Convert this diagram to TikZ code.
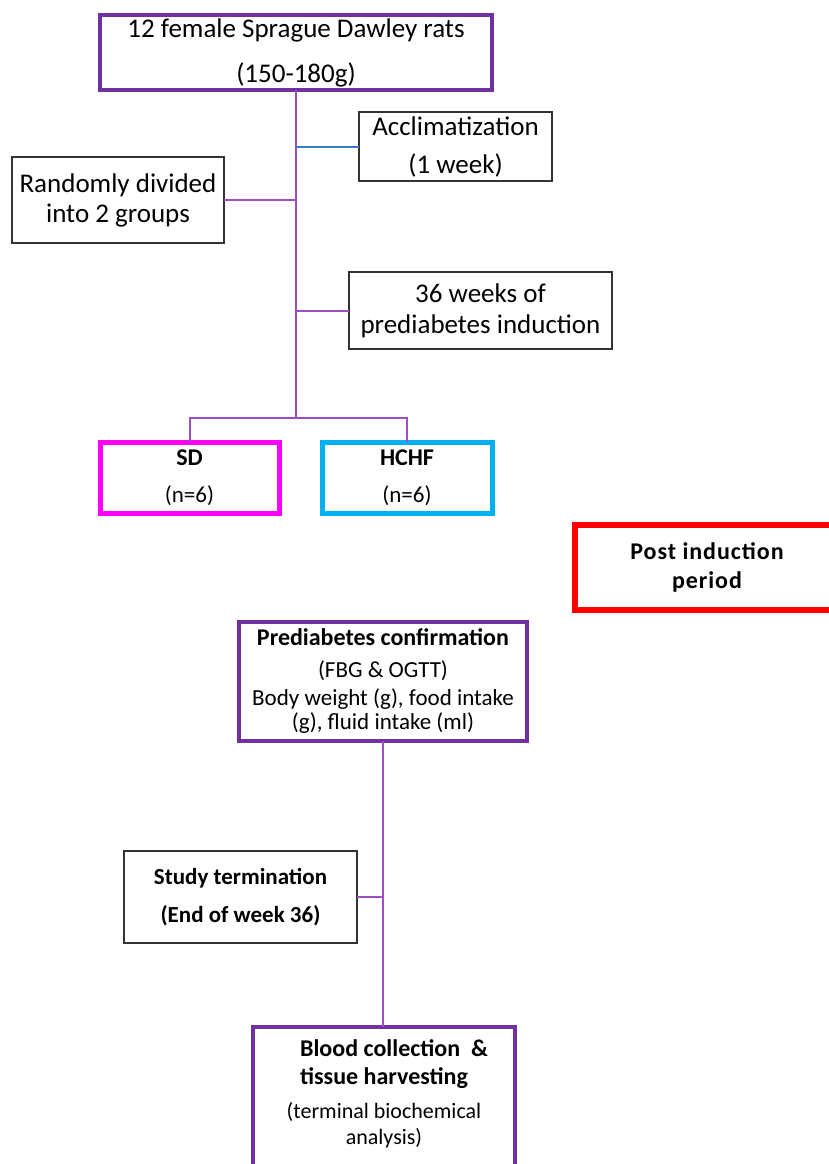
\documentclass[tikz,border=0pt]{standalone}
\usepackage{fontspec}
\setmainfont{Carlito}
\definecolor{boxpurple}{HTML}{7030A0}
\definecolor{linepurple}{HTML}{9E4FC6}
\definecolor{lineblue}{HTML}{3C78C3}
\definecolor{sdmag}{HTML}{FF00FF}
\definecolor{hccyan}{HTML}{00B0F0}
\definecolor{postred}{HTML}{FF0000}
\begin{document}
\begin{tikzpicture}[x=1pt,y=-1pt,
  every node/.style={inner sep=0pt,outer sep=0pt,align=center,text=black},
  pbox/.style={draw=boxpurple,line width=4.5pt},
  tbox/.style={draw=black!80,line width=1.6pt},
  conn/.style={draw=linepurple,line width=2pt},
  bconn/.style={draw=lineblue,line width=2pt}]
\useasboundingbox (0,0) rectangle (829,1164);
\clip (0,0) rectangle (829,1164);

% boxes
\node[pbox,minimum width=392pt,minimum height=75pt,font=\fontsize{27}{45}\selectfont] (top) at (296,52.5) {12 female Sprague Dawley rats\\(150-180g)};
\node[tbox,minimum width=193pt,minimum height=69pt,font=\fontsize{27}{38}\selectfont] (acc) at (455.5,146.5) {Acclimatization\\(1 week)};
\node[tbox,minimum width=212pt,minimum height=86pt,font=\fontsize{27}{30}\selectfont] (rand) at (118,200) {Randomly divided\\into 2 groups};
\node[tbox,minimum width=263pt,minimum height=77pt,font=\fontsize{27}{31}\selectfont] (wk) at (480.5,310.5) {36 weeks of\\prediabetes induction};
\node[draw=sdmag,line width=5pt,minimum width=179pt,minimum height=71pt,font=\fontsize{23}{37}\selectfont] (sd) at (189.5,477.5) {{\bfseries\fontsize{24}{24}\selectfont SD}\\(n=6)};
\node[draw=hccyan,line width=5pt,minimum width=170pt,minimum height=71pt,font=\fontsize{23}{37}\selectfont] (hchf) at (407,477.5) {{\bfseries\fontsize{24}{24}\selectfont HCHF}\\(n=6)};
\node[draw=postred,line width=6pt,minimum width=264pt,minimum height=85pt,font=\bfseries\fontsize{24}{29}\selectfont\addfontfeature{LetterSpace=4}] (post) at (707,567.5) {Post induction\\period};
\node[pbox,minimum width=288pt,minimum height=119pt,font=\fontsize{23}{23}\selectfont] (conf) at (383,681.5) {{\bfseries\fontsize{24}{24}\selectfont Prediabetes confirmation}\\[9pt](FBG \& OGTT)\\[5pt]Body weight (g), food intake\\[1pt](g), fluid intake (ml)};
\node[tbox,minimum width=233pt,minimum height=92pt,font=\bfseries\fontsize{23}{38}\selectfont] (stop) at (240.5,897) {Study termination\\(End of week 36)};
\node[pbox,minimum width=262pt,minimum height=148pt] (blood) at (384,1101) {};
\node[align=left,font=\bfseries\fontsize{24}{28}\selectfont] (bt1) at (394,1064) {Blood collection\ \ \&\\tissue harvesting};
\node[font=\fontsize{22}{26}\selectfont] (bt2) at (384,1125) {(terminal biochemical\\analysis)};

% connectors
\coordinate (br) at (296,418);
\draw[conn] (top.south) -- (br);
\draw[bconn] (acc.west) -- (acc.west -| top.south);
\draw[conn] (rand.east) -- (rand.east -| top.south);
\draw[conn] (wk.west) -- (wk.west -| top.south);
\draw[conn] (sd.north) |- (br) -| (hchf.north);
\draw[conn] (conf.south) -- (conf.south |- blood.north);
\draw[conn] (stop.east) -- (stop.east -| conf.south);
\end{tikzpicture}
\end{document}
